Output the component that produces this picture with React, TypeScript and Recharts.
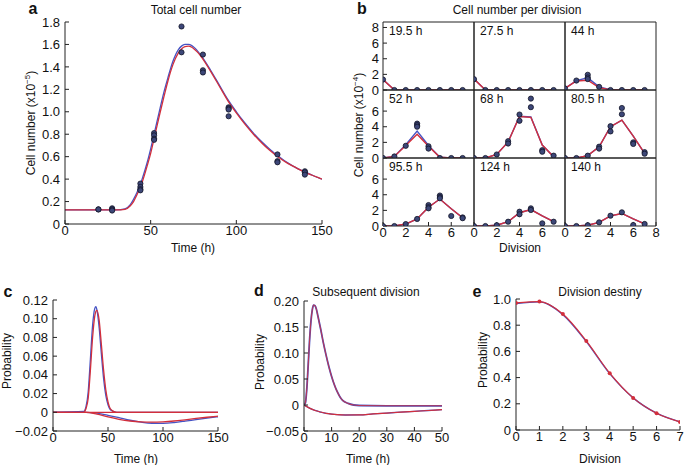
import React from 'react';
import { ComposedChart, Line, Scatter, XAxis, YAxis, ReferenceLine } from 'recharts';

const FONT = '"Liberation Sans", Arial, Helvetica, sans-serif';
const RED = '#d22f3c';
const BLUE = '#4653c4';
const DOT_FILL = '#3d4778';
const DOT_STROKE = '#111427';
const AXIS = '#222';
const tickStyle = { fontSize: 13, fill: '#111' };

// a: total cell number (x10^5)
const totalTime = [0, 10, 20, 30, 35, 38, 40, 42, 45, 48, 50, 52, 55, 58, 60, 63, 66, 68, 70, 72, 74, 76, 78, 80, 85, 90, 95, 100, 105, 110, 115, 120, 125, 130, 135, 140, 145, 150];
const totalRed = [0.125, 0.125, 0.125, 0.125, 0.13, 0.16, 0.2, 0.26, 0.37, 0.52, 0.63, 0.76, 0.96, 1.15, 1.27, 1.42, 1.52, 1.56, 1.58, 1.585, 1.575, 1.55, 1.52, 1.48, 1.36, 1.23, 1.1, 0.99, 0.89, 0.8, 0.72, 0.65, 0.59, 0.54, 0.5, 0.46, 0.43, 0.4];
const totalBlue = [0.125, 0.125, 0.125, 0.125, 0.135, 0.17, 0.22, 0.28, 0.4, 0.55, 0.67, 0.8, 1.0, 1.19, 1.3, 1.45, 1.55, 1.585, 1.6, 1.6, 1.59, 1.565, 1.53, 1.49, 1.37, 1.24, 1.11, 1.0, 0.9, 0.81, 0.73, 0.66, 0.6, 0.545, 0.5, 0.465, 0.43, 0.4];
const obsTime = [19.5, 19.5, 27.5, 27.5, 27.5, 44, 44, 44, 44, 52, 52, 52, 52, 68, 68, 80.5, 80.5, 80.5, 95.5, 95.5, 95.5, 95.5, 124, 124, 124, 140, 140, 140];
const obsTotal = [0.13, 0.13, 0.14, 0.13, 0.12, 0.36, 0.33, 0.31, 0.3, 0.81, 0.79, 0.76, 0.75, 1.76, 1.53, 1.51, 1.37, 1.35, 1.04, 1.03, 1.02, 0.96, 0.62, 0.56, 0.55, 0.47, 0.46, 0.44];

// b: cell number per division (x10^4)
const sampleLabels = ['19.5 h', '27.5 h', '44 h', '52 h', '68 h', '80.5 h', '95.5 h', '124 h', '140 h'];
const divisions = [0, 1, 2, 3, 4, 5, 6, 7];
const fitRed = [
  [1.35, 0, 0, 0, 0, 0, 0, 0],
  [1.4, 0, 0, 0, 0, 0, 0, 0],
  [0.2, 1.15, 1.25, 0.3, 0.02, 0, 0, 0],
  [0, 0.2, 1.6, 3.05, 1.5, 0.1, 0, 0],
  [0, 0, 0.45, 2.05, 5.3, 5.2, 1.65, 0.15],
  [0, 0, 0.3, 1.43, 4.0, 4.85, 2.8, 0.6],
  [0, 0, 0.25, 0.9, 2.4, 3.45, 2.2, 1.05],
  [0, 0, 0.1, 0.55, 1.7, 2.1, 1.3, 0.55],
  [0, 0, 0.1, 0.47, 1.3, 1.6, 0.9, 0.26],
];
const fitBlue = [
  [1.35, 0, 0, 0, 0, 0, 0, 0],
  [1.4, 0, 0, 0, 0, 0, 0, 0],
  [0.2, 1.2, 1.55, 0.4, 0.05, 0, 0, 0],
  [0, 0.2, 1.7, 3.45, 1.6, 0.1, 0, 0],
  [0, 0, 0.45, 2.05, 5.35, 5.25, 1.65, 0.15],
  [0, 0, 0.3, 1.43, 4.0, 4.85, 2.8, 0.6],
  [0, 0, 0.25, 0.9, 2.4, 3.45, 2.2, 1.05],
  [0, 0, 0.1, 0.55, 1.7, 2.1, 1.3, 0.55],
  [0, 0, 0.1, 0.47, 1.3, 1.6, 0.9, 0.26],
];
const obsPerDivision = [
  [[0, 1.34], [1, 0], [2, 0], [3, 0], [4, 0], [5, 0], [6, 0], [7, 0]],
  [[0, 1.38], [1, 0], [2, 0], [3, 0], [4, 0], [5, 0], [6, 0], [7, 0]],
  [[0, 0.2], [1, 1.21], [2, 1.95], [2, 1.6], [2, 1.4], [3, 0.4], [4, 0], [5, 0], [6, 0], [7, 0]],
  [[0, 0], [1, 0.2], [2, 1.56], [3, 4.4], [3, 4.2], [3, 4.0], [4, 1.5], [4, 1.2], [5, 0], [6, 0], [7, 0]],
  [[0, 0], [1, 0], [2, 0.45], [3, 2.15], [3, 1.85], [4, 5.56], [4, 4.76], [5, 7.6], [5, 6.5], [6, 1.0], [6, 0.8], [7, 0.3]],
  [[0, 0], [1, 0], [2, 0.3], [3, 1.45], [3, 1.2], [4, 4.07], [4, 3.4], [5, 6.4], [5, 5.6], [6, 2.0], [6, 1.8], [7, 0.75], [7, 0.55]],
  [[0, 0], [1, 0], [2, 0.25], [3, 0.9], [4, 2.68], [4, 2.4], [4, 2.26], [5, 3.9], [5, 3.7], [5, 3.55], [6, 1.28], [7, 1.1], [7, 1.0]],
  [[0, 0], [1, 0], [2, 0.1], [3, 0.55], [4, 1.83], [4, 1.5], [5, 2.26], [5, 2.05], [6, 0.34], [7, 0.55]],
  [[0, 0], [1, 0], [2, 0.1], [3, 0.47], [4, 1.32], [5, 1.75], [6, 0.13], [7, 0.26]],
];

// c: probability vs time
const cPeakTime = [0, 28, 30, 32, 34, 36, 38, 39, 40, 42, 44, 46, 48, 50, 52, 55, 58, 150];
const cPeakRed = [0, 0, 0.004, 0.015, 0.045, 0.08, 0.103, 0.108, 0.109, 0.098, 0.072, 0.045, 0.024, 0.011, 0.004, 0.001, 0, 0];
const cPeakBlue = [0, 0.001, 0.006, 0.022, 0.057, 0.093, 0.111, 0.113, 0.109, 0.09, 0.062, 0.036, 0.018, 0.008, 0.003, 0.001, 0, 0];
const cTailTime = [0, 30, 40, 50, 60, 70, 80, 90, 100, 110, 120, 130, 140, 150];
const cTailRed = [0, 0, -0.002, -0.005, -0.0075, -0.0093, -0.0103, -0.0106, -0.0102, -0.0093, -0.008, -0.0066, -0.0053, -0.0042];
const cTailBlue = [0, 0, -0.001, -0.0032, -0.0058, -0.0085, -0.0105, -0.0117, -0.0118, -0.011, -0.0095, -0.0078, -0.0062, -0.0048];
const cZeroTime = [0, 150];
const cZero = [0, 0];

// d: subsequent division
const dPeakTime = [0, 0.5, 1, 1.5, 2, 2.5, 3, 3.5, 4, 4.5, 5, 6, 7, 8, 9, 10, 11, 12, 13, 14, 16, 18, 20, 30, 40, 50];
const dPeak = [0, 0.004, 0.03, 0.075, 0.123, 0.16, 0.183, 0.192, 0.191, 0.184, 0.172, 0.147, 0.12, 0.096, 0.074, 0.055, 0.039, 0.026, 0.016, 0.009, 0.003, 0, -0.001, -0.0015, -0.0015, -0.0015];
const dTailTime = [0, 2, 4, 6, 8, 10, 12, 15, 20, 25, 30, 35, 40, 45, 50];
const dTail = [0, -0.006, -0.0105, -0.0135, -0.016, -0.0175, -0.0185, -0.0192, -0.019, -0.0172, -0.0155, -0.0138, -0.0122, -0.0106, -0.009];

// e: division destiny
const destinyRed = [0.97, 0.98, 0.885, 0.68, 0.434, 0.245, 0.128, 0.062];
const destinyBlue = [0.965, 0.978, 0.88, 0.675, 0.43, 0.245, 0.128, 0.062];

const xy = (xs: number[], ys: number[]) => xs.map((x, i) => ({ x, y: ys[i] }));
const fmt = (d: number) => (v: number) => (v === 0 ? '0' : (v < 0 ? '\u2212' : '') + Math.abs(v).toFixed(d));

const Dot = (props: any) => (
  <circle cx={props.cx} cy={props.cy} r={2.6} fill={DOT_FILL} stroke={DOT_STROKE} strokeWidth={0.8} />
);
const RedDot = (props: any) => <circle cx={props.cx} cy={props.cy} r={2} fill={RED} stroke="none" />;

const Txt = ({ x, y, children, size = 12, bold = false, rotate = false }: any) => (
  <div
    style={{
      position: 'absolute',
      left: x,
      top: y,
      transform: `translate(-50%, -50%)${rotate ? ' rotate(-90deg)' : ''}`,
      fontSize: size,
      fontWeight: bold ? 'bold' : 'normal',
      whiteSpace: 'nowrap',
      lineHeight: 1,
      color: '#111',
    }}
  >
    {children}
  </div>
);

const axisCommon = { stroke: AXIS, tickSize: -4, interval: 0 as const, allowDataOverflow: true };

// panel b grid
const B_MAX = 8.7;
const CELL_W = 91;
const CELL_H = 68;
const GRID_LEFT = 383;
const GRID_TOP = 22;
const PAD = 4;
const PAD_BOTTOM = 9;

const SubPlot = ({ i }: { i: number }) => {
  const r = Math.floor(i / 3);
  const c = i % 3;
  const yW = c === 0 ? 22 : 1;
  const xH = r === 2 ? 18 : 1;
  const left = GRID_LEFT + c * CELL_W - yW - PAD;
  const top = GRID_TOP + r * CELL_H - PAD;
  const red = xy(divisions, fitRed[i]);
  const blue = xy(divisions, fitBlue[i]);
  const pts = obsPerDivision[i].map(([x, y]) => ({ x, y }));
  return (
    <div style={{ position: 'absolute', left, top }}>
      <ComposedChart
        width={yW + CELL_W + 2 * PAD}
        height={CELL_H + xH + PAD + PAD_BOTTOM}
        margin={{ top: PAD, right: PAD, bottom: PAD_BOTTOM, left: PAD }}
      >
        <XAxis
          {...axisCommon}
          type="number"
          dataKey="x"
          domain={[0, 8]}
          ticks={c === 2 ? [0, 2, 4, 6, 8] : [0, 2, 4, 6]}
          height={xH}
          tick={r === 2 ? tickStyle : false}
          tickMargin={6}
        />
        <YAxis
          {...axisCommon}
          type="number"
          dataKey="y"
          domain={[0, B_MAX]}
          ticks={r === 0 ? [0, 2, 4, 6, 8] : [0, 2, 4, 6]}
          width={yW}
          tick={c === 0 ? tickStyle : false}
          tickMargin={8}
        />
        <ReferenceLine x={8} stroke={AXIS} />
        <ReferenceLine y={B_MAX} stroke={AXIS} />
        <Line data={blue} dataKey="y" type="linear" stroke={BLUE} strokeWidth={1.4} dot={false} isAnimationActive={false} />
        <Line data={red} dataKey="y" type="linear" stroke={RED} strokeWidth={1.4} dot={false} isAnimationActive={false} />
        <Scatter data={pts} dataKey="y" shape={Dot} isAnimationActive={false} />
      </ComposedChart>
      <div
        style={{
          position: 'absolute',
          left: yW + PAD + 6,
          top: PAD + 3,
          fontSize: 12,
          lineHeight: 1,
          color: '#111',
          whiteSpace: 'nowrap',
        }}
      >
        {sampleLabels[i]}
      </div>
    </div>
  );
};

export default function App() {
  const aRed = xy(totalTime, totalRed);
  const aBlue = xy(totalTime, totalBlue);
  const aObs = xy(obsTime, obsTotal);

  return (
    <div
      style={{
        position: 'absolute',
        left: 0,
        top: 0,
        width: 685,
        height: 465,
        background: '#fff',
        fontFamily: FONT,
        overflow: 'hidden',
      }}
    >
      {/* a */}
      <div style={{ position: 'absolute', left: 0, top: 0 }}>
        <ComposedChart width={340} height={250} margin={{ top: 22, right: 18, bottom: 0, left: 0 }}>
          <XAxis {...axisCommon} type="number" dataKey="x" domain={[0, 150]} ticks={[0, 50, 100, 150]} height={26} tick={tickStyle} tickMargin={6} />
          <YAxis
            {...axisCommon}
            type="number"
            dataKey="y"
            domain={[0, 1.8]}
            ticks={[0, 0.2, 0.4, 0.6, 0.8, 1.0, 1.2, 1.4, 1.6, 1.8]}
            width={65}
            tick={tickStyle}
            tickMargin={9}
            tickFormatter={fmt(1)}
          />
          <Line data={aBlue} dataKey="y" type="monotone" stroke={BLUE} strokeWidth={1.3} dot={false} isAnimationActive={false} />
          <Line data={aRed} dataKey="y" type="monotone" stroke={RED} strokeWidth={1.3} dot={false} isAnimationActive={false} />
          <Scatter data={aObs} dataKey="y" shape={Dot} isAnimationActive={false} />
        </ComposedChart>
      </div>
      <Txt x={33} y={9} size={16} bold>a</Txt>
      <Txt x={196} y={10}>Total cell number</Txt>
      <Txt x={30} y={123} rotate>
        Cell number (x10<sup style={{ fontSize: 8 }}>{'\u22125'}</sup>)
      </Txt>
      <Txt x={193} y={248}>Time (h)</Txt>

      {/* b */}
      {sampleLabels.map((_, i) => (
        <SubPlot key={i} i={i} />
      ))}
      <Txt x={362} y={9} size={16} bold>b</Txt>
      <Txt x={517} y={10}>Cell number per division</Txt>
      <Txt x={358} y={125} rotate>
        Cell number (x10<sup style={{ fontSize: 8 }}>{'\u22124'}</sup>)
      </Txt>
      <Txt x={520} y={248}>Division</Txt>

      {/* c */}
      <div style={{ position: 'absolute', left: 0, top: 290 }}>
        <ComposedChart width={230} height={175} margin={{ top: 10, right: 12, bottom: 16, left: 0 }}>
          <XAxis {...axisCommon} type="number" dataKey="x" domain={[0, 150]} ticks={[0, 50, 100, 150]} height={18} tick={tickStyle} tickMargin={6} />
          <YAxis
            {...axisCommon}
            type="number"
            dataKey="y"
            domain={[-0.02, 0.12]}
            ticks={[-0.02, 0, 0.02, 0.04, 0.06, 0.08, 0.1, 0.12]}
            width={53}
            tick={tickStyle}
            tickMargin={9}
            tickFormatter={fmt(2)}
          />
          <Line data={xy(cTailTime, cTailBlue)} dataKey="y" type="monotone" stroke={BLUE} strokeWidth={1.3} dot={false} isAnimationActive={false} />
          <Line data={xy(cTailTime, cTailRed)} dataKey="y" type="monotone" stroke={RED} strokeWidth={1.3} dot={false} isAnimationActive={false} />
          <Line data={xy(cPeakTime, cPeakBlue)} dataKey="y" type="monotone" stroke={BLUE} strokeWidth={1.3} dot={false} isAnimationActive={false} />
          <Line data={xy(cPeakTime, cPeakRed)} dataKey="y" type="monotone" stroke={RED} strokeWidth={1.3} dot={false} isAnimationActive={false} />
          <Line data={xy(cZeroTime, cZero)} dataKey="y" type="linear" stroke={RED} strokeWidth={1.3} dot={false} isAnimationActive={false} />
        </ComposedChart>
      </div>
      <Txt x={8} y={292} size={16} bold>c</Txt>
      <Txt x={7} y={361} rotate>Probability</Txt>
      <Txt x={136} y={459}>Time (h)</Txt>

      {/* d */}
      <div style={{ position: 'absolute', left: 230, top: 290 }}>
        <ComposedChart width={230} height={175} margin={{ top: 11, right: 18, bottom: 16, left: 0 }}>
          <XAxis {...axisCommon} type="number" dataKey="x" domain={[0, 50]} ticks={[0, 10, 20, 30, 40, 50]} height={18} tick={tickStyle} tickMargin={6} />
          <YAxis
            {...axisCommon}
            type="number"
            dataKey="y"
            domain={[-0.05, 0.2]}
            ticks={[-0.05, 0, 0.05, 0.1, 0.15, 0.2]}
            width={74}
            tick={tickStyle}
            tickMargin={9}
            tickFormatter={fmt(2)}
          />
          <Line data={xy(dTailTime, dTail)} dataKey="y" type="monotone" stroke={BLUE} strokeWidth={1.3} dot={false} isAnimationActive={false} />
          <Line data={xy(dTailTime, dTail)} dataKey="y" type="monotone" stroke={RED} strokeWidth={1.2} dot={false} isAnimationActive={false} />
          <Line data={xy(dPeakTime, dPeak)} dataKey="y" type="monotone" stroke={BLUE} strokeWidth={1.8} dot={false} isAnimationActive={false} />
          <Line data={xy(dPeakTime, dPeak)} dataKey="y" type="monotone" stroke={RED} strokeWidth={1.1} strokeOpacity={0.8} dot={false} isAnimationActive={false} />
        </ComposedChart>
      </div>
      <Txt x={259} y={291} size={16} bold>d</Txt>
      <Txt x={366} y={292}>Subsequent division</Txt>
      <Txt x={260} y={362} rotate>Probability</Txt>
      <Txt x={368} y={459}>Time (h)</Txt>

      {/* e */}
      <div style={{ position: 'absolute', left: 455, top: 290 }}>
        <ComposedChart width={230} height={175} margin={{ top: 9, right: 5, bottom: 17, left: 0 }}>
          <XAxis {...axisCommon} type="number" dataKey="x" domain={[0, 7]} ticks={divisions} height={18} tick={tickStyle} tickMargin={6} />
          <YAxis
            {...axisCommon}
            type="number"
            dataKey="y"
            domain={[0, 1]}
            ticks={[0, 0.2, 0.4, 0.6, 0.8, 1.0]}
            width={61}
            tick={tickStyle}
            tickMargin={9}
            tickFormatter={fmt(1)}
          />
          <Line data={xy(divisions, destinyBlue)} dataKey="y" type="monotone" stroke={BLUE} strokeWidth={1.4} dot={false} isAnimationActive={false} />
          <Line data={xy(divisions, destinyRed)} dataKey="y" type="monotone" stroke={RED} strokeWidth={1.2} dot={RedDot} isAnimationActive={false} />
        </ComposedChart>
      </div>
      <Txt x={477} y={292} size={16} bold>e</Txt>
      <Txt x={600} y={292}>Division destiny</Txt>
      <Txt x={483} y={360} rotate>Probability</Txt>
      <Txt x={600} y={459}>Division</Txt>
    </div>
  );
}
